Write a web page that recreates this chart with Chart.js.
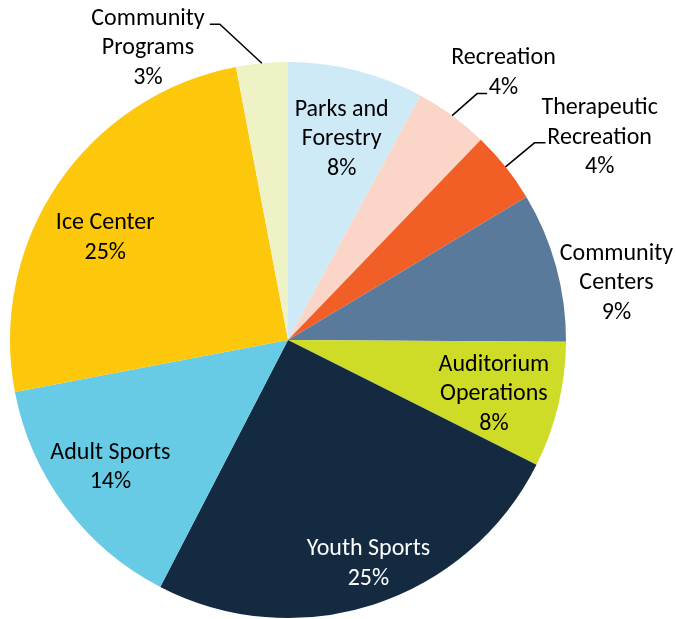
<!DOCTYPE html>
<html>
<head>
<meta charset="utf-8">
<script src="https://cdn.jsdelivr.net/npm/chart.js@4"></script>
<style>
  html, body { margin: 0; padding: 0; background: #fff; }
  #wrap { width: 676px; height: 619px; position: relative; }
</style>
</head>
<body>
<div id="wrap"><canvas id="graficoPizza"></canvas></div>
<script>
// dados (fatia, valor aproximado, rotulo mostrado)
var categorias = [
    ['Parks and', 'Forestry'],
    ['Recreation'],
    ['Therapeutic', 'Recreation'],
    ['Community', 'Centers'],
    ['Auditorium', 'Operations'],
    ['Youth Sports'],
    ['Adult Sports'],
    ['Ice Center'],
    ['Community', 'Programs']
];
var valores = [7.9, 4.3, 4.2, 8.7, 7.3, 25.2, 14.4, 25.0, 3.0];
var percentuais = ['8%', '4%', '4%', '9%', '8%', '25%', '14%', '25%', '3%'];

var cores = ['#CDEAF6', '#FAD5C8', '#F15F26', '#5A7A9C', '#CEDB27', '#142A40', '#67CBE5', '#FDC70C', '#EEF2C4'];
var corTexto = ['#000', '#000', '#000', '#000', '#000', '#fff', '#000', '#000', '#000'];

// posicao do rotulo: fator do raio e desvio do angulo (graus) em relacao ao meio da fatia
var posRotulo = [
    { r: 0.755, a: 0.6 },
    { r: 1.24, a: 2.5 },
    { r: 1.34, a: 5.3 },
    { r: 1.20, a: 5.2 },
    { r: 0.764, a: 0.7 },
    { r: 0.85, a: -1.9 },
    { r: 0.782, a: 1.5 },
    { r: 0.756, a: -4.6 },
    { r: 1.17, a: -20.1 }
];
// linhas guia (cotovelo em pixels a partir da borda, e trecho horizontal)
var guias = {
    1: { dx: 25, dy: -22, h: 10 },
    2: { dx: 29, dy: -24, h: 11 },
    8: { dx: -42, dy: -39, h: -10 }
};

var fonte = "Carlito, Lato, 'Open Sans', sans-serif";
var tamanho = 24;
var alturaLinha = 29.5;
var ajusteY = 2;

var rotulosPlugin = {
    id: 'rotulos',
    afterDraw: function (chart) {
        var ctx = chart.ctx;
        var arcos = chart.getDatasetMeta(0).data;
        ctx.save();
        ctx.font = tamanho + 'px ' + fonte;
        ctx.textAlign = 'center';
        ctx.textBaseline = 'middle';
        for (var i = 0; i < arcos.length; i++) {
            var p = arcos[i].getProps(['x', 'y', 'startAngle', 'endAngle', 'outerRadius'], true);
            var meio = (p.startAngle + p.endAngle) / 2;

            var g = guias[i];
            if (g) {
                var bx = p.x + Math.cos(meio) * p.outerRadius;
                var by = p.y + Math.sin(meio) * p.outerRadius;
                ctx.beginPath();
                ctx.strokeStyle = '#000';
                ctx.lineWidth = 1.5;
                ctx.moveTo(bx, by);
                ctx.lineTo(bx + g.dx, by + g.dy);
                ctx.lineTo(bx + g.dx + g.h, by + g.dy);
                ctx.stroke();
            }

            var ang = meio + posRotulo[i].a * Math.PI / 180;
            var rr = p.outerRadius * posRotulo[i].r;
            var cx = p.x + Math.cos(ang) * rr;
            var cy = p.y + Math.sin(ang) * rr + ajusteY;
            var linhas = categorias[i].concat([percentuais[i]]);
            var topo = cy - (linhas.length - 1) * alturaLinha / 2;
            ctx.fillStyle = corTexto[i];
            for (var k = 0; k < linhas.length; k++) {
                ctx.fillText(linhas[k], cx, topo + k * alturaLinha);
            }
        }
        ctx.restore();
    }
};

var graficoPizza = new Chart(document.getElementById('graficoPizza'), {
    type: 'pie',
    data: {
        labels: categorias,
        datasets: [{
            data: valores,
            backgroundColor: cores,
            borderWidth: 0
        }]
    },
    options: {
        responsive: true,
        maintainAspectRatio: false,
        animation: false,
        layout: {
            padding: { left: 10, top: 62, right: 110, bottom: 1 }
        },
        plugins: {
            legend: { display: false },
            tooltip: { enabled: false }
        }
    },
    plugins: [rotulosPlugin]
});
</script>
</body>
</html>
